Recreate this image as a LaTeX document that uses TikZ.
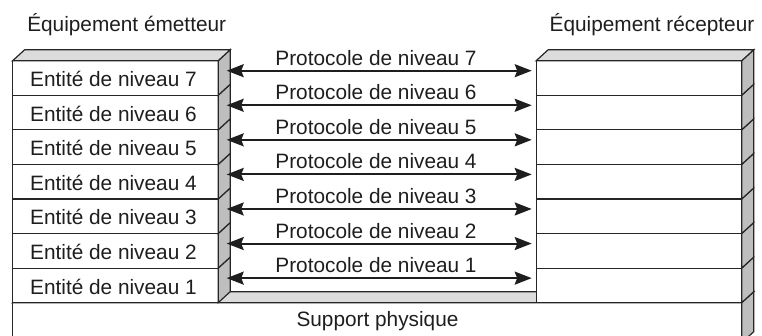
\documentclass[tikz,border=0pt]{standalone}
\usepackage{fontspec}
\setmainfont{Liberation Sans}
\usetikzlibrary{arrows.meta,calc}
\definecolor{edge}{HTML}{262626}
\definecolor{topgray}{HTML}{DCDCDC}
\definecolor{sidegray}{HTML}{BEBEBE}
\definecolor{ink}{HTML}{1E1E1E}
\tikzset{
  face/.style={draw=edge, line width=1.2pt, line join=miter},
  rowbox/.style={face, fill=white, rectangle, inner sep=0pt, outer sep=0pt,
    minimum width=205.5pt, minimum height=34.57pt, anchor=north west},
  lbl/.style={font=\fontsize{20.8}{24}\selectfont, text=ink, inner sep=0pt, anchor=base},
  proto/.style={line width=2pt, draw=ink,
    {Stealth[length=17pt,width=13pt,inset=2.5pt]}-{Stealth[length=17pt,width=13pt,inset=2.5pt]}},
}
\begin{document}
\begin{tikzpicture}[x=1pt,y=-1pt]
\useasboundingbox (0,0) rectangle (762,335);
\clip (0,0) rectangle (762,335);

% support physique
\node[face, fill=white, rectangle, inner sep=0pt, outer sep=0pt,
  minimum width=729pt, minimum height=40pt, anchor=north west] (S) at (12.7,302.7) {};
\draw[face, fill=topgray] (S.north west) -- ++(12,-11) -- ++(729,0) -- (S.north east) -- cycle;
\draw[face, fill=sidegray] (S.north east) -- ++(12,-11) -- ++(0,40) -- (S.south east) -- cycle;
\node[lbl] (tS) at (377.5,326.7) {Support physique};

% stacks
\foreach \i in {1,...,7}{
  \pgfmathsetmacro\rt{60.7+(7-\i)*34.57}
  \node[rowbox] (L\i) at (12.7,\rt) {};
  \node[rowbox] (R\i) at (536.2,\rt) {};
  \draw[face, fill=sidegray] (L\i.north east) -- ++(12,-11) -- ++(0,34.57) -- (L\i.south east) -- cycle;
  \draw[face, fill=sidegray] (R\i.north east) -- ++(12,-11) -- ++(0,34.57) -- (R\i.south east) -- cycle;
  \node[lbl] (tL\i) at ($(L\i.north)+(-2,26)$) {Entité de niveau \i};
  \node[lbl] (tP\i) at (376,\rt+4.5) {Protocole de niveau \i};
  \coordinate (pl\i) at ($(L\i.north east)+(8.5,10)$);
  \coordinate (pr\i) at ($(R\i.north west)+(-4.5,10)$);
  \draw[proto] (pl\i) -- (pr\i);
}
\draw[face, fill=topgray] (L7.north west) -- ++(12,-11) -- ++(205.5,0) -- (L7.north east) -- cycle;
\draw[face, fill=topgray] (R7.north west) -- ++(12,-11) -- ++(205.5,0) -- (R7.north east) -- cycle;

% titles
\node[lbl] (t1) at (126.7,31.5) {Équipement émetteur};
\node[lbl] (t2) at (652,31.5) {Équipement récepteur};
\end{tikzpicture}
\end{document}
